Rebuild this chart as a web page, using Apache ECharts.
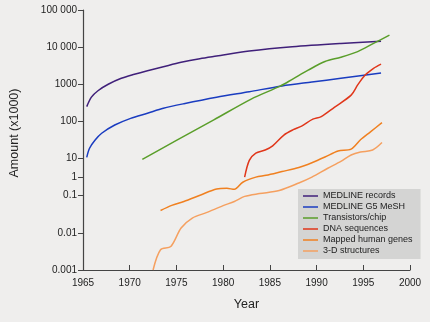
<!DOCTYPE html>
<html><head><meta charset="utf-8">
<script src="https://cdn.jsdelivr.net/npm/echarts@6/dist/echarts.min.js"></script>
<style>html,body{margin:0;padding:0;background:#efeeed}#c{width:430px;height:322px}</style>
</head><body><div id="c"></div>
<script>
// Data: [year, amount (x1000)]
const medlineRecords = [[1965.4,250],[1965.9,450],[1966.6,670],[1967.7,1000],[1969.1,1450],[1970.5,1860],[1971.9,2320],[1973.6,2970],[1975.5,3900],[1977.5,4900],[1979.3,5770],[1982.8,7870],[1987.4,10280],[1992.6,12600],[1996.9,14400]];
const medlineMesh = [[1965.4,10.8],[1965.7,19],[1966.3,31.6],[1967.0,48],[1968.4,80],[1970.1,121],[1971.9,166],[1973.6,226],[1975.8,300],[1979.3,447],[1982.8,631],[1986.3,900],[1989.5,1150],[1992.6,1450],[1996.9,2000]];
const transistors = [[1971.35,9.1],[1975,31],[1979,110],[1983,400],[1986.1,890],[1987.4,1360],[1989.1,2400],[1990.9,4100],[1992.6,5350],[1994.4,7600],[1996.1,12600],[1997.8,21000]];
const dnaSequences = [[1982.3,1],[1982.8,8],[1983.5,14],[1984.5,17],[1985.3,22],[1986.5,43],[1987.5,60],[1988.4,75],[1989.6,115],[1990.5,135],[1991.9,240],[1993.7,510],[1994.4,960],[1995.2,1780],[1996.1,2700],[1996.9,3500]];
const mappedGenes = [[1973.3,0.04],[1974.5,0.055],[1975.8,0.07],[1977.6,0.11],[1979.3,0.23],[1980.4,0.25],[1981.2,0.22],[1982.1,0.53],[1983.5,1.0],[1984.6,1.25],[1986.3,2.0],[1988.1,3.3],[1989.5,6],[1990.9,11],[1992.3,16],[1993.7,18],[1994.7,32],[1995.8,53],[1997.0,93]];
const structures3D = [[1972.5,0.001],[1973.3,0.0035],[1974.4,0.0043],[1975.5,0.0135],[1976.7,0.025],[1978.2,0.035],[1980.0,0.054],[1981.2,0.070],[1982.3,0.096],[1983.9,0.13],[1986.0,0.19],[1988.1,0.48],[1989.5,1.0],[1991.2,3.0],[1992.6,7],[1993.7,12.5],[1994.7,15],[1996.0,17],[1997.0,27]];
const seriesNames = ['MEDLINE records','MEDLINE G5 MeSH','Transistors/chip','DNA sequences','Mapped human genes','3-D structures'];
const yTickValues = [0.001,0.01,0.1,1,10,100,1000,10000,100000];
const yTickLabels = ['0.001','0.01','0.1','1','10','100','1000','10 000','100 000'];

// The original axis is log, with the 0.1..10 range compressed into one decade of space.
function tf(v){const l=Math.log10(v); if(l>=1) return l; if(l>=-1) return (l+1)/2; return l+1;}
const tickPos = yTickValues.map(tf);
const labelMap = {}; tickPos.forEach((p,i)=>labelMap[p.toFixed(2)]=yTickLabels[i]);
const colors = ['#40207a','#1a3cc0','#5a9e2a','#e0361a','#f08020','#f5a060'];
const allData = [medlineRecords,medlineMesh,transistors,dnaSequences,mappedGenes,structures3D];
const FONT = 'Liberation Sans';
const chart = echarts.init(document.getElementById('c'));
chart.setOption({
  backgroundColor:'#efeeed',
  animation:false,
  grid:{left:77,right:20,top:10,bottom:52},
  xAxis:{type:'value',min:1965,max:2000,interval:5,
    name:'Year',nameLocation:'middle',nameGap:28,
    nameTextStyle:{fontFamily:FONT,fontSize:12.5,color:'#222'},
    axisLine:{onZero:false,lineStyle:{color:'#444',width:1.2}},
    axisTick:{inside:true,length:5,lineStyle:{color:'#444'}},
    axisLabel:{fontFamily:FONT,fontSize:10,color:'#222',margin:8,formatter:v=>String(v)},
    splitLine:{show:false}},
  yAxis:{type:'value',min:-2,max:5,
    name:'Amount (x1000)',nameLocation:'middle',nameGap:62,
    nameTextStyle:{fontFamily:FONT,fontSize:12.5,color:'#222',padding:[0,0,0,14]},
    axisLine:{show:true,onZero:false,lineStyle:{color:'#444',width:1.2}},
    axisTick:{show:true,length:5,customValues:tickPos,lineStyle:{color:'#444'}},
    axisLabel:{fontFamily:FONT,fontSize:10,color:'#222',margin:6,customValues:tickPos,
      formatter:v=>labelMap[Number(v).toFixed(2)]||''},
    splitLine:{show:false}},
  legend:{orient:'vertical',left:298,top:189,
    backgroundColor:'#d4d4d3',padding:[2,8,3,5],itemGap:1,
    icon:'rect',itemWidth:15,itemHeight:1.5,
    textStyle:{fontFamily:FONT,fontSize:9,color:'#222',lineHeight:10},
    data:seriesNames},
  series: allData.map((d,i)=>({
    name:seriesNames[i],type:'line',showSymbol:false,smooth:0.3,
    lineStyle:{color:colors[i],width:1.5},itemStyle:{color:colors[i]},
    data:d.map(p=>[p[0],tf(p[1])])
  }))
});
</script></body></html>
